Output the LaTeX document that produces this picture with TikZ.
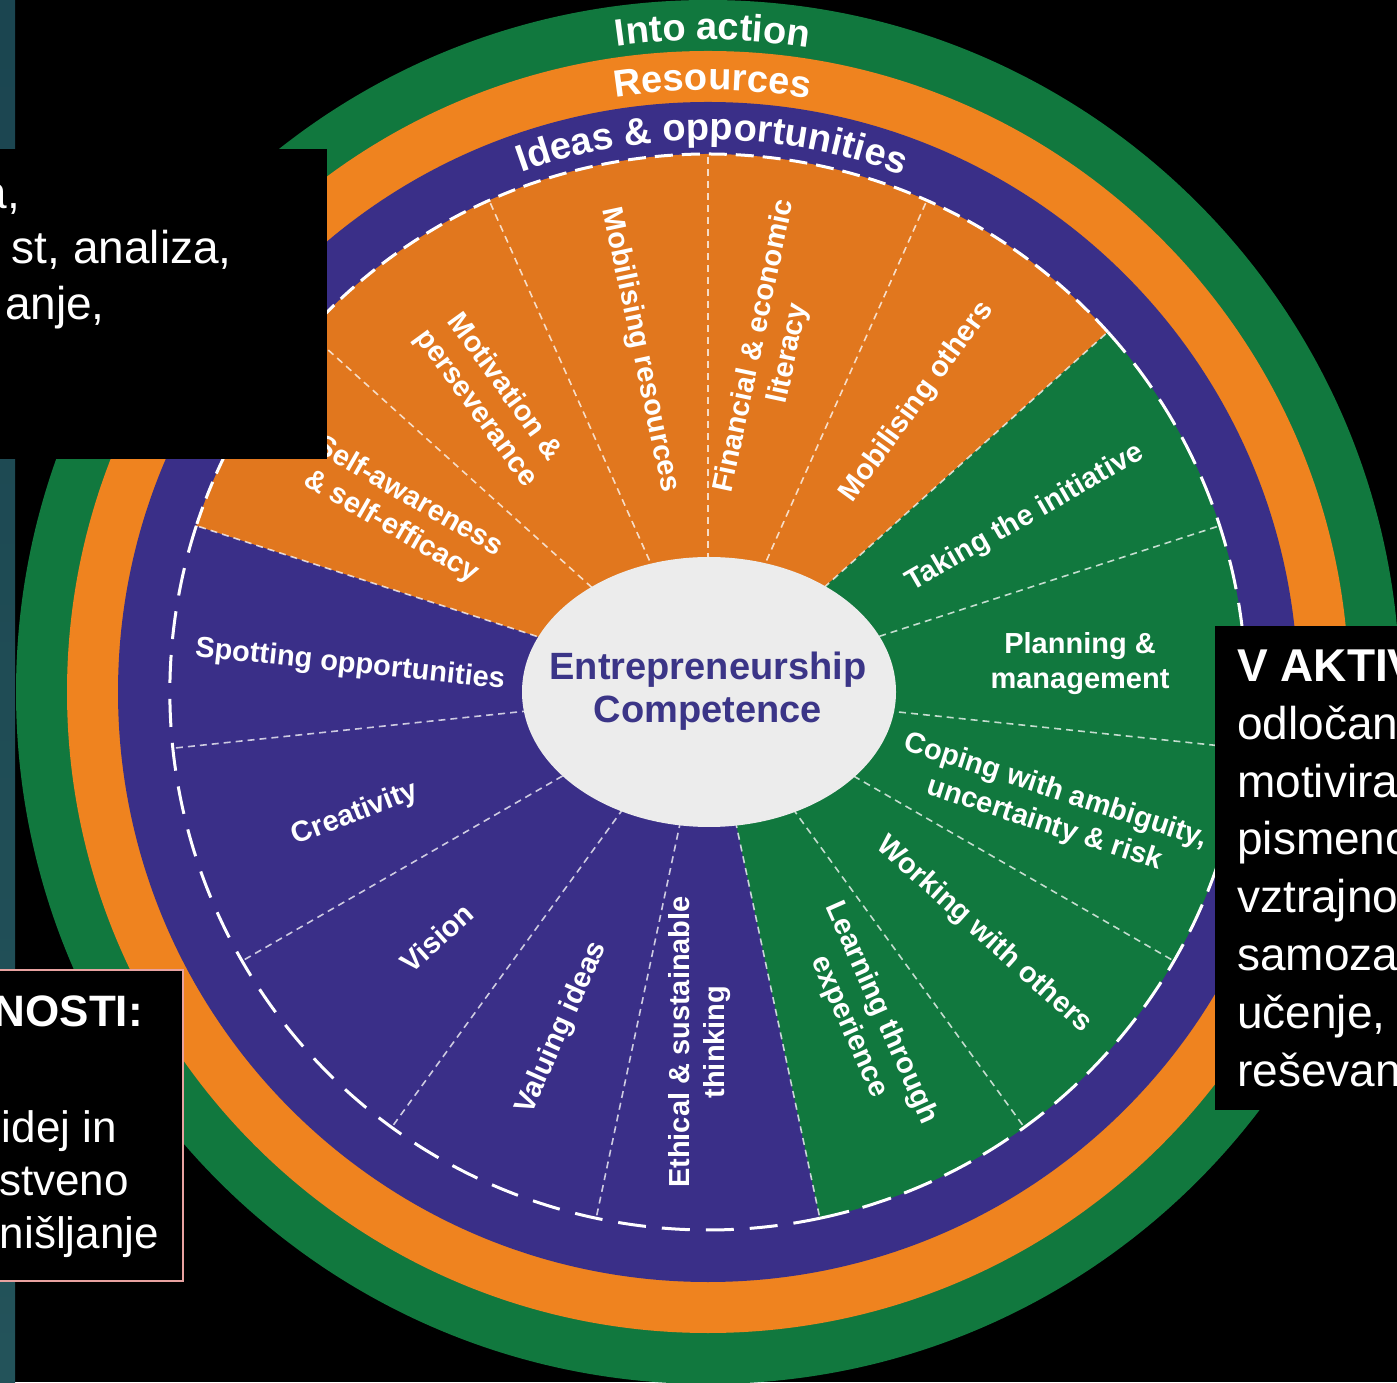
\documentclass[tikz,border=0pt]{standalone}
\usepackage{fontspec}
\setmainfont{Liberation Sans}
\usetikzlibrary{decorations.text,calc}
\definecolor{ecgreen}{HTML}{11783E}
\definecolor{ecorange}{HTML}{EF831F}
\definecolor{ecorangedark}{HTML}{E1771E}
\definecolor{ecpurple}{HTML}{3A2F88}
\definecolor{ecgrey}{HTML}{ECECEC}
\definecolor{ectext}{HTML}{3B3587}
\definecolor{ectealtop}{HTML}{1B4550}
\definecolor{ectealmid}{HTML}{2C6266}
\definecolor{ectealbot}{HTML}{23535A}
\definecolor{ecpink}{HTML}{E8A2A0}
\newcommand\ecringfont{\fontsize{38}{40}\selectfont\bfseries}
\begin{document}
\begin{tikzpicture}[x=1pt,y=1pt,
  lab/.style={text=white, font=\fontsize{29}{35}\selectfont\bfseries, align=center, inner sep=0pt},
  coretext/.style={text=ectext, font=\fontsize{38}{43}\selectfont\bfseries, inner sep=0pt, anchor=base},
  boxtext/.style={text=white, font=\fontsize{46}{55}\selectfont, inner sep=0pt},
  boxtextb/.style={text=white, font=\fontsize{44}{52}\selectfont, inner sep=0pt},
  radial/.style={white, opacity=0.75, line width=1.6, dash pattern=on 7pt off 5pt},
  rim/.style={white, line width=3},
  ringtext/.style={decorate, decoration={text along path, text align=center, text color=white, text={#1}}}
]
\useasboundingbox (0,0) rectangle (1397,1382);
\clip (0,0) rectangle (1397,1382);
\fill[black] (0,0) rectangle (1397,1382);
\shade[top color=ectealtop, middle color=ectealmid, bottom color=ectealbot] (0,0) rectangle (15,1382);

\coordinate (C) at (708,690);
% rings
\fill[ecgreen] (C) circle[radius=692];
\fill[ecorange] (C) circle[radius=641];
\fill[ecpurple] (C) circle[radius=590];
% sectors
\fill[ecorangedark] (C) -- ++(42:538) arc[start angle=42, end angle=162, radius=538] -- cycle;
\fill[ecgreen] (C) -- ++(-78:538) arc[start angle=-78, end angle=42, radius=538] -- cycle;
% radial separators
\foreach \a in {18,42,...,354} \draw[radial] (C) -- ++(\a:538);
% dashed rim
\draw[rim, dash pattern=on 18pt off 9pt] ($(C)+(42:538)$) arc[start angle=42, end angle=162, radius=538];
\draw[rim, dash pattern=on 28pt off 16pt] ($(C)+(162:538)$) arc[start angle=162, end angle=282, radius=538];
\draw[rim, dash pattern=on 30pt off 14pt] ($(C)+(282:538)$) arc[start angle=282, end angle=402, radius=538];

% centre
\fill[ecgrey] (709,690) ellipse[x radius=187, y radius=135];
\node[coretext] (core1) at (708,702) {Entrepreneurship};
\node[coretext] (core2) at (708,659) {Competence};

% ring labels
\path[ringtext={|\ecringfont|Into action}] ($(C)+(149.6:652)$) arc[start angle=149.6, end angle=29.6, radius=652];
\path[ringtext={|\ecringfont|Resources}] ($(C)+(149.6:602)$) arc[start angle=149.6, end angle=29.6, radius=602];
\path[ringtext={|\ecringfont|Ideas {\&} opportunities}] ($(C)+(149.6:552)$) arc[start angle=149.6, end angle=29.6, radius=552];

% sector labels
\node[lab, rotate=-6] (spot) at (350,717) {Spotting opportunities};
\node[lab, rotate=21] (creat) at (355,568) {Creativity};
\node[lab, rotate=42] (vision) at (437,444) {Vision};
\node[lab, rotate=66] (valuing) at (562,354) {Valuing ideas};
\node[lab, rotate=90] (ethical) at (700,340) {Ethical \& sustainable\\thinking};
\node[lab, rotate=-66] (learning) at (865,362) {Learning through\\experience};
\node[lab, rotate=-42] (working) at (984,447) {Working with others};
\node[lab, rotate=-18] (coping) at (1050,574) {Coping with ambiguity,\\uncertainty \& risk};
\node[lab] (planning) at (1080,718) {Planning \&\\management};
\node[lab, rotate=30] (taking) at (1025,864) {Taking the initiative};
\node[lab, rotate=54] (mobothers) at (917,980) {Mobilising others};
\node[lab, rotate=78] (financial) at (772,1032) {Financial \& economic\\literacy};
\node[lab, rotate=-78] (mobres) at (640,1032) {Mobilising resources};
\node[lab, rotate=-54] (motivation) at (490,984) {Motivation \&\\perseverance};
\node[lab, rotate=-30] (selfaw) at (400,870) {Self-awareness\\\& self-efficacy};

% top-left box
\fill[black] (-10,923) rectangle (327,1233);
\node[boxtext, anchor=base east] (tl1) at (20,1173) {a,};
\node[boxtext, anchor=base east] (tl2) at (232,1118) {st, analiza,};
\node[boxtext, anchor=base east] (tl3) at (105,1062) {anje,};

% bottom-left box
\draw[ecpink, line width=1.5, fill=black] (-5,101) rectangle (183,412);
\node[boxtextb, anchor=base east, font=\fontsize{44}{52}\selectfont\bfseries] (bl1) at (143,355) {NOSTI:};
\node[boxtextb, anchor=base east] (bl2) at (117,240) {idej in};
\node[boxtextb, anchor=base east] (bl3) at (129,187) {stveno};
\node[boxtextb, anchor=base east] (bl4) at (159,134) {nišljanje};

% right box
\fill[black] (1215,272) rectangle (1410,756);
\node[boxtext, anchor=base west, font=\fontsize{46}{55}\selectfont\bfseries] (r1) at (1237,700) {V AKTIV};
\node[boxtext, anchor=base west] (r2) at (1237,642) {odločan};
\node[boxtext, anchor=base west] (r3) at (1237,584) {motivira};
\node[boxtext, anchor=base west] (r4) at (1237,527) {pismeno};
\node[boxtext, anchor=base west] (r5) at (1237,469) {vztrajno};
\node[boxtext, anchor=base west] (r6) at (1237,411) {samoza};
\node[boxtext, anchor=base west] (r7) at (1237,353) {učenje,};
\node[boxtext, anchor=base west] (r8) at (1237,295) {reševan};
\end{tikzpicture}
\end{document}
